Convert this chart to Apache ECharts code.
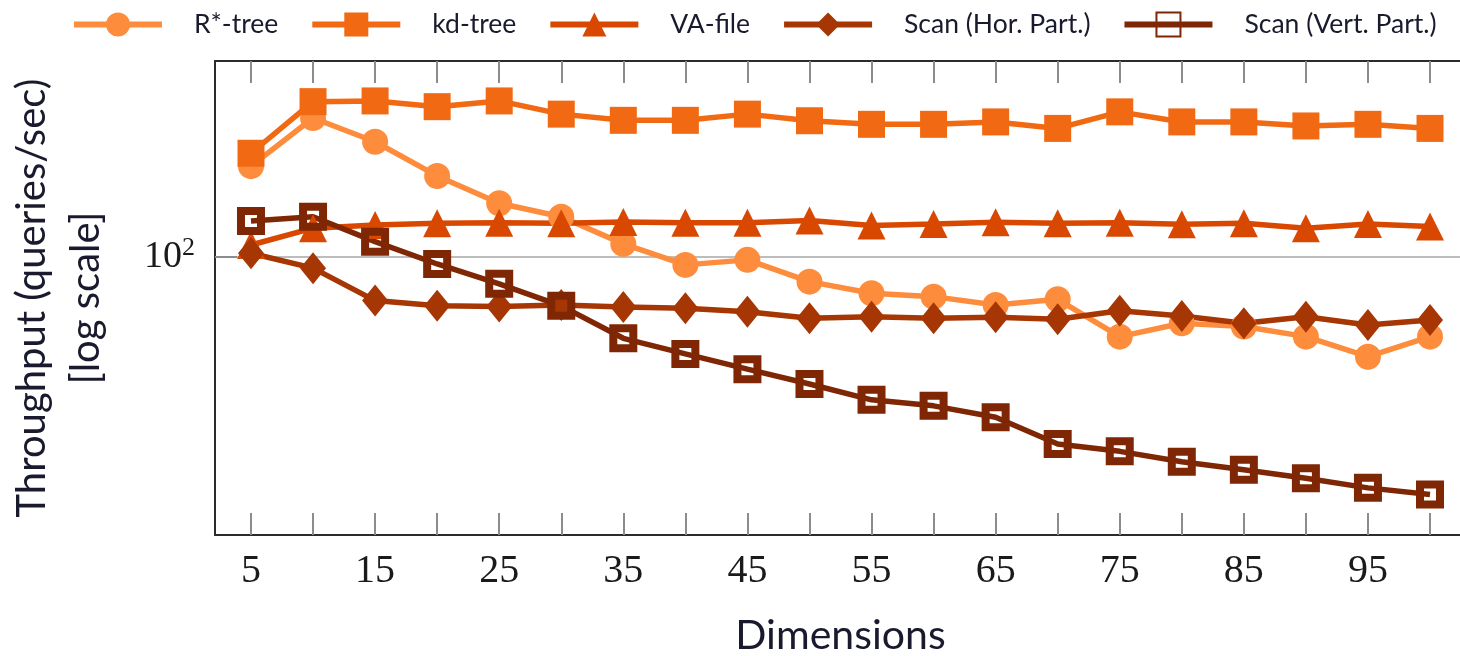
<!DOCTYPE html>
<html>
<head>
<meta charset="utf-8">
<script src="https://cdn.jsdelivr.net/npm/echarts@6/dist/echarts.min.js"></script>
<style>
  html, body { margin: 0; padding: 0; background: #fff; }
  #chart { width: 1460px; height: 656px; }
</style>
</head>
<body>
<div id="chart"></div>
<script>
// dimensions on the x axis
var dims = [5, 10, 15, 20, 25, 30, 35, 40, 45, 50, 55, 60, 65, 70, 75, 80, 85, 90, 95, 100];
var xTicks = [5, 10, 15, 20, 25, 30, 35, 40, 45, 50, 55, 60, 65, 70, 75, 80, 85, 90, 95, 100];
var xLabels = [5, 15, 25, 35, 45, 55, 65, 75, 85, 95];
var yLabels = [100];

// throughput (queries/sec)
var rstar = [169, 223, 194.5, 159.7, 136.5, 126.3, 108, 95.7, 98.5, 86.9, 81.3, 79.7, 76, 78.5, 63.3, 68.4, 67.1, 63.3, 56.4, 63.3];
var kdtree = [182, 245, 246, 238, 246, 228, 220, 220, 228, 219.5, 215, 215, 218, 210, 231, 218, 218, 213, 215, 210];
var vafile = [107.3, 118.2, 120.4, 121.6, 122, 121.6, 122.5, 122, 122, 123.5, 120, 121.1, 122.3, 121.6, 122, 120.9, 121.6, 118.2, 121.1, 119.3];
var scanHor = [102.3, 93.9, 77.9, 75.6, 75.3, 76, 75.1, 74.6, 73.1, 70.4, 71, 70.4, 70.8, 70, 73.5, 71.3, 68.4, 71, 67.7, 69.7];
var scanVert = [123.2, 126.3, 109.4, 96.2, 85.8, 75.6, 62.7, 57.3, 52.5, 48.2, 44, 42.5, 39.8, 34.1, 32.7, 30.8, 29.4, 28, 26.5, 25.5];

function pairs(vals) {
  return dims.map(function (d, i) { return [d, vals[i]]; });
}

var sans = 'Lato';
var serif = 'Liberation Serif';
var tickStyle = { color: '#8c8c8c', width: 2 };
var frame = { color: '#2b2b2b', width: 2 };

var chart = echarts.init(document.getElementById('chart'));

function mkSeries(name, vals, color, symbol, size, extra) {
  var s = {
    name: name,
    type: 'line',
    data: pairs(vals),
    symbol: symbol,
    symbolSize: size,
    showAllSymbol: true,
    lineStyle: { color: color, width: 5.5 },
    itemStyle: { color: color },
    emphasis: { disabled: true }
  };
  if (extra) Object.assign(s, extra);
  return s;
}

chart.setOption({
  animation: false,
  backgroundColor: '#fff',
  legend: {
    top: 6,
    left: 66,
    itemWidth: 88,
    itemHeight: 30,
    itemGap: 31,
    lineStyle: { width: 6 },
    textStyle: { fontFamily: sans, fontSize: 26.5, color: '#1a1a2e', padding: [0, 0, 0, 27] }
  },
  grid: { left: 215, right: -6, top: 61, bottom: 121, outerBoundsMode: 'none' },
  xAxis: [{
    type: 'value',
    min: 2.1,
    max: 102.9,
    position: 'bottom',
    name: 'Dimensions',
    nameLocation: 'middle',
    nameGap: 80,
    nameTextStyle: { fontFamily: sans, fontSize: 41, color: '#1a1a2e' },
    axisLine: { show: true, onZero: false, lineStyle: frame },
    axisTick: { show: true, inside: true, length: 22, lineStyle: tickStyle, customValues: xTicks },
    axisLabel: { fontFamily: serif, fontSize: 40, color: '#1a1a1a', margin: 16, customValues: xLabels },
    splitLine: { show: false }
  }, {
    type: 'value',
    min: 2.1,
    max: 102.9,
    position: 'top',
    axisLine: { show: true, onZero: false, lineStyle: frame },
    axisTick: { show: true, inside: true, length: 22, lineStyle: tickStyle, customValues: xTicks },
    axisLabel: { show: false },
    splitLine: { show: false }
  }],
  yAxis: {
    type: 'log',
    logBase: 10,
    min: 20.2,
    max: 309.6,
    name: 'Throughput (queries/sec)\n[log scale]',
    nameLocation: 'middle',
    nameRotate: 90,
    nameGap: 102,
    nameTextStyle: { fontFamily: sans, fontSize: 40, color: '#1a1a2e', lineHeight: 54 },
    axisLine: { show: true, lineStyle: frame },
    axisTick: { show: true, inside: true, length: 22, lineStyle: tickStyle, customValues: yLabels },
    axisLabel: {
      margin: 20,
      customValues: yLabels,
      formatter: function () { return '{b|10}{s|2}'; },
      rich: {
        b: { fontFamily: serif, fontSize: 38, color: '#1a1a1a' },
        s: { fontFamily: serif, fontSize: 26, color: '#1a1a1a', verticalAlign: 'top', padding: [0, 0, 18, 0] }
      }
    },
    splitLine: { show: true, lineStyle: { color: '#bdbdbd', width: 2 } }
  },
  series: [
    mkSeries('R*-tree', rstar, '#fd8d3c', 'circle', 26),
    mkSeries('kd-tree', kdtree, '#f16913', 'rect', 27),
    mkSeries('VA-file', vafile, '#d94801', 'triangle', 28),
    mkSeries('Scan (Hor. Part.)', scanHor, '#a63603', 'diamond', [26, 32]),
    mkSeries('Scan (Vert. Part.)', scanVert, '#7f2704', 'rect', 20, {
      itemStyle: { color: 'rgba(255,255,255,0)', borderColor: '#7f2704', borderWidth: 8 }
    })
  ]
});
</script>
</body>
</html>
